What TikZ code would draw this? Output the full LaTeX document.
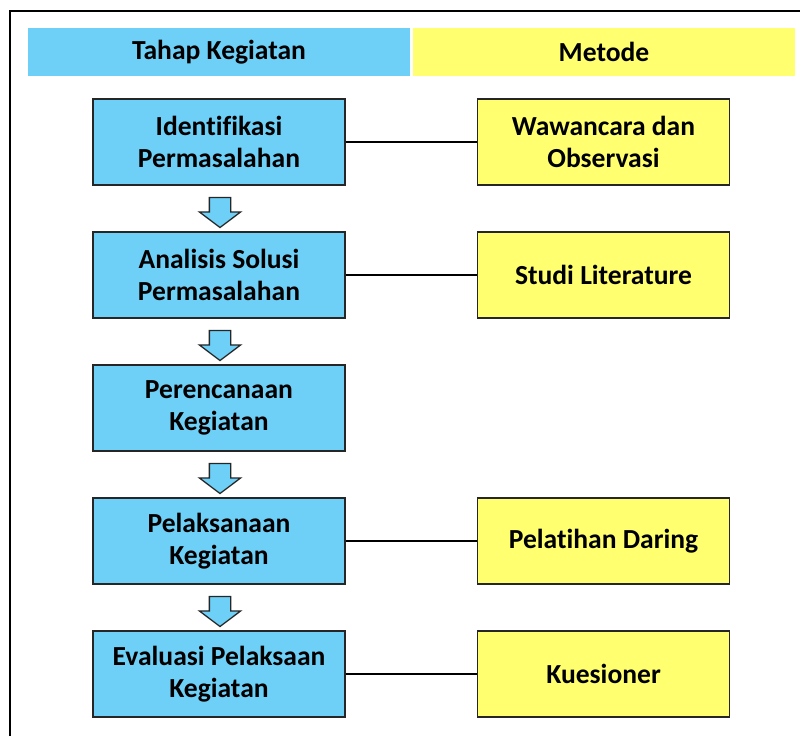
\documentclass[tikz,border=0pt]{standalone}
\usepackage{fontspec}
\setmainfont{Carlito}[Ligatures={NoCommon,NoRequired}, Contextuals=NoAlternate]
\usetikzlibrary{shapes.arrows,calc,positioning}
\definecolor{biru}{RGB}{110,208,247}
\definecolor{kuning}{RGB}{255,255,112}

\begin{document}
\begin{tikzpicture}[x=0.025cm, y=-0.025cm,
    teks/.style={font=\fontsize{19.6}{22.3}\selectfont\bfseries, align=center, text=black},
    kepala/.style={teks, rectangle, minimum width=9.55cm, minimum height=1.175cm, inner sep=0pt},
    kotak/.style={teks, rectangle, draw=black!85, line width=0.9pt, minimum width=6.3cm, minimum height=2.15cm, inner sep=0pt},
    panah/.style={single arrow, draw=black!85, fill=biru, line width=0.9pt, rotate=-90,
        minimum height=0.75cm, minimum width=1cm, inner xsep=0pt, inner ysep=0.25cm,
        single arrow head extend=0.25cm, single arrow tip angle=106}]

    \useasboundingbox (0,0) rectangle (800,736);

    %frame
    \draw [line width=0.9pt] (10,736) -- (10,11) -- (800,11);

    %header
    \node [kepala, fill=biru] (htahap) at (219,52) {Tahap Kegiatan};
    \node [kepala, fill=kuning] (hmetode) at (604,52) {Metode};

    %tahap kegiatan
    \node [kotak, fill=biru] (t1) at (219,142) {Identifikasi\\Permasalahan};
    \node [kotak, fill=biru] (t2) at (219,275) {Analisis Solusi\\Permasalahan};
    \node [kotak, fill=biru] (t3) at (219,408) {Perencanaan\\Kegiatan};
    \node [kotak, fill=biru] (t4) at (219,541) {Pelaksanaan\\Kegiatan};
    \node [kotak, fill=biru] (t5) at (219,674) {Evaluasi Pelaksaan\\Kegiatan};

    %metode
    \node [kotak, fill=kuning] (m1) at (603.5,142) {Wawancara dan\\Observasi};
    \node [kotak, fill=kuning] (m2) at (603.5,275) {Studi Literature};
    \node [kotak, fill=kuning] (m4) at (603.5,541) {Pelatihan Daring};
    \node [kotak, fill=kuning] (m5) at (603.5,674) {Kuesioner};

    %arrows
    \foreach \a/\b in {1/2,2/3,3/4,4/5}
        \node [panah] (p\a) at ($(t\a.south)!0.5!(t\b.north)+(1,0)$) {};

    %lines
    \foreach \i in {1,2,4,5}
        \draw [line width=1.1pt] (t\i.east) -- (m\i.west);

\end{tikzpicture}
\end{document}
